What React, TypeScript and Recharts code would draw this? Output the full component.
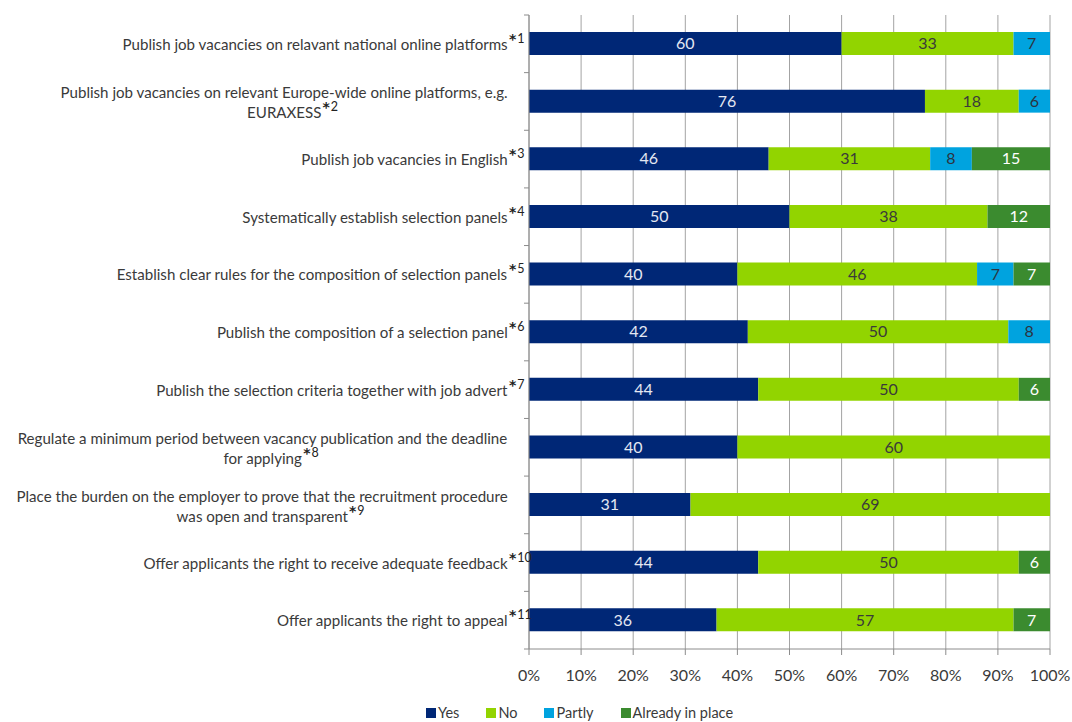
import React from 'react';
import { BarChart, Bar, XAxis, YAxis, CartesianGrid, LabelList, Legend } from 'recharts';

const categories = [
  'Publish job vacancies on relavant national online platforms',
  'Publish job vacancies on relevant Europe-wide online platforms, e.g.\nEURAXESS',
  'Publish job vacancies in English',
  'Systematically establish selection panels',
  'Establish clear rules for the composition of selection panels',
  'Publish the composition of a selection panel',
  'Publish the selection criteria together with job advert',
  'Regulate a minimum period between vacancy publication and the deadline\nfor applying',
  'Place the burden on the employer to prove that the recruitment procedure\nwas open and transparent',
  'Offer applicants the right to receive adequate feedback',
  'Offer applicants the right to appeal',
];
const notes = ['1', '2', '3', '4', '5', '6', '7', '8', '9', '10', '11'];

const yesValues = [60, 76, 46, 50, 40, 42, 44, 40, 31, 44, 36];
const noValues = [33, 18, 31, 38, 46, 50, 50, 60, 69, 50, 57];
const partlyValues = [7, 6, 8, 0, 7, 8, 0, 0, 0, 0, 0];
const alreadyValues = [0, 0, 15, 12, 7, 0, 6, 0, 0, 6, 7];

const xTicks = [0, 10, 20, 30, 40, 50, 60, 70, 80, 90, 100];

const data = categories.map((label, i) => ({
  label,
  yes: yesValues[i],
  no: noValues[i],
  partly: partlyValues[i],
  already: alreadyValues[i],
}));

const FONT = "Lato, 'Open Sans', sans-serif";
const W = 1072;
const H = 722;
const X_AXIS_H = 30;
const MARGIN = { top: 15, right: 22, bottom: 43, left: 0 };
const Y_WIDTH = 529;
const AXIS_X = MARGIN.left + Y_WIDTH;
const BAND = (H - MARGIN.top - MARGIN.bottom - X_AXIS_H) / categories.length;
const GRAY = '#8c8c8c';
const TEXT = '#3a3a3a';
const LABEL_SIZE = 15.1;

let ctx: CanvasRenderingContext2D | null = null;
function measure(text: string, size: number) {
  if (!ctx) {
    const c = document.createElement('canvas');
    ctx = c.getContext('2d');
  }
  if (!ctx) return text.length * size * 0.45;
  ctx.font = `${size}px ${FONT}`;
  return ctx.measureText(text).width;
}

function Suffix({ x, y, note }: { x: number; y: number; note: string }) {
  return (
    <text x={x} y={y} fill="#222" textAnchor="start">
      <tspan fontFamily="'DejaVu Sans', sans-serif" fontSize={14} fontWeight="bold" dy={-6}>*</tspan>
      <tspan fontFamily={FONT} fontSize={12.5} dy={-1} dx={1}>{note}</tspan>
    </text>
  );
}

function CategoryTick(props: any) {
  const { y, payload, index } = props;
  const lines: string[] = String(payload.value).split('\n');
  const note = notes[index];
  const right = AXIS_X - 21;
  const lh = 20;
  const base0 = y + 6 - ((lines.length - 1) * lh) / 2 + (lines.length > 1 ? 1 : 0);
  const w0 = measure(lines[0], LABEL_SIZE);
  const center = right - w0 / 2;
  const els: any[] = [];
  lines.forEach((ln, i) => {
    const by = base0 + i * lh;
    const w = measure(ln, LABEL_SIZE);
    const x0 = i === 0 ? right - w : center - w / 2;
    els.push(
      <text key={'t' + i} x={x0} y={by} fill={TEXT} fontFamily={FONT} fontSize={LABEL_SIZE} textAnchor="start">
        {ln}
      </text>
    );
    if (i === lines.length - 1) {
      els.push(<Suffix key="s" x={x0 + w + 1} y={by} note={note} />);
    }
  });
  return (
    <g>
      <line x1={AXIS_X - 5} x2={AXIS_X} y1={y - BAND / 2} y2={y - BAND / 2} stroke={GRAY} />
      {index === categories.length - 1 && (
        <line x1={AXIS_X - 5} x2={AXIS_X} y1={y + BAND / 2} y2={y + BAND / 2} stroke={GRAY} />
      )}
      {els}
    </g>
  );
}

const fmt = (v: any) => (v ? String(v) : '');

const series = [
  { key: 'yes', name: 'Yes', color: '#002776', labelColor: '#e4e8f2' },
  { key: 'no', name: 'No', color: '#92d400', labelColor: '#3a3a3a' },
  { key: 'partly', name: 'Partly', color: '#00a3df', labelColor: '#2c3440' },
  { key: 'already', name: 'Already in place', color: '#3b8b2f', labelColor: '#ffffff' },
];
const seriesOrder = series.map((s) => s.name);

function LegendContent(props: any) {
  const payload = [...(props.payload || [])].sort(
    (a: any, b: any) => seriesOrder.indexOf(a.value) - seriesOrder.indexOf(b.value)
  );
  return (
    <div style={{ display: 'flex', alignItems: 'center', fontFamily: FONT, fontSize: 14.5, color: TEXT, lineHeight: '18px' }}>
      {payload.map((p: any, i: number) => (
        <span key={i} style={{ display: 'inline-flex', alignItems: 'center', marginRight: i === payload.length - 1 ? 0 : 27 }}>
          <span style={{ display: 'inline-block', width: 10, height: 10, background: p.color, marginRight: 2 }} />
          {p.value}
        </span>
      ))}
    </div>
  );
}

export default function App() {
  return (
    <div style={{ position: 'absolute', left: 0, top: 0, width: W, height: H, background: '#fff' }}>
      <BarChart width={W} height={H} data={data} layout="vertical" margin={MARGIN} barSize={23}>
        <CartesianGrid horizontal={false} vertical stroke="#a3a3a3" />
        <XAxis
          type="number"
          domain={[0, 100]}
          ticks={xTicks}
          height={X_AXIS_H}
          tickFormatter={(v: number) => `${v}%`}
          axisLine={{ stroke: GRAY }}
          tickLine={{ stroke: GRAY }}
          tickSize={6}
          tickMargin={15}
          tick={{ fill: TEXT, fontFamily: FONT, fontSize: 16 }}
          allowDataOverflow
        />
        <YAxis
          type="category"
          dataKey="label"
          width={Y_WIDTH}
          axisLine={{ stroke: GRAY }}
          tickLine={false}
          tick={<CategoryTick />}
          interval={0}
        />
        <Legend
          layout="horizontal"
          verticalAlign="middle"
          align="center"
          content={<LegendContent />}
          wrapperStyle={{ position: 'absolute', top: 704, left: 426, width: 400 }}
        />
        {series.map((s) => (
          <Bar key={s.key} dataKey={s.key} name={s.name} stackId="a" fill={s.color} isAnimationActive={false}>
            <LabelList
              dataKey={s.key}
              position="center"
              formatter={fmt}
              fill={s.labelColor}
              style={{ fontFamily: FONT, fontSize: 16 }}
            />
          </Bar>
        ))}
      </BarChart>
    </div>
  );
}
